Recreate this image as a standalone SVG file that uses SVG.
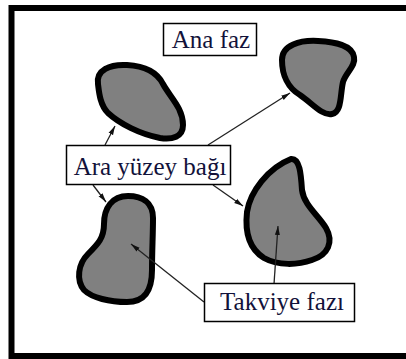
<svg xmlns="http://www.w3.org/2000/svg" width="406" height="359" viewBox="0 0 406 359">
<defs>
<style>
.frame{fill:none;stroke:#000;stroke-width:6}
.blob{fill:#808080;stroke:#000;stroke-width:6;stroke-linejoin:round}
.box{fill:#fff;stroke:#000;stroke-width:1.5}
.lbl{font-family:"Liberation Serif","Times New Roman",serif;font-size:25px;fill:#12123a;text-anchor:middle}
.con{fill:none;stroke:#222;stroke-width:1.3;marker-end:url(#ah)}
</style>
<marker id="ah" markerUnits="userSpaceOnUse" markerWidth="10" markerHeight="6" refX="9" refY="3" orient="auto">
<path d="M0,0.5 L9,3 L0,5.5 z" fill="#111"/>
</marker>
</defs>
<rect width="406" height="359" fill="#fff"/>
<rect class="frame" x="11.5" y="8" width="410" height="348"/>
<g id="blob1"><path class="blob" d="M98,84 C96,70 110,64 127,65 C145,66 157,72 163,84 C170,97 183,108 183,125 C183,137 172,140 160,138 C140,134 120,124 108,113 C100,105 99,92 98,84 Z"/></g>
<g id="blob2"><path class="blob" d="M282,60 C282,45 300,40 318,41 C335,42 352,45 354,57 C356,66 346,72 343,82 C340,95 342,112 332,114 C322,116 312,103 300,95 C288,88 282,75 282,60 Z"/></g>
<g id="blob3"><path class="blob" d="M128,196 C142,196 153,202 153,218 C153,235 152,250 152,270 C152,290 145,302 127,302 C110,302 92,298 84,290 C76,280 78,264 88,254 C98,244 104,238 104,224 C104,208 112,196 128,196 Z"/></g>
<g id="blob4"><path class="blob" d="M291,159 C300,158 301,175 302,190 C304,205 318,215 326,228 C334,242 328,255 312,260 C298,265 278,266 264,258 C248,248 245,230 247,212 C250,192 268,168 291,159 Z"/></g>
<g id="connectors">
<line class="con" x1="105" y1="145" x2="115" y2="126"/>
<line class="con" x1="208" y1="145" x2="290" y2="93"/>
<line class="con" x1="93" y1="185" x2="106" y2="202"/>
<line class="con" x1="213" y1="185" x2="243" y2="206"/>
<line class="con" x1="204" y1="302" x2="131" y2="244"/>
<line class="con" x1="274" y1="284" x2="278" y2="226"/>
</g>
<g id="ana-faz"><rect class="box" x="163.5" y="23.5" width="93" height="32"/><text class="lbl" x="211" y="48">Ana faz</text></g>
<g id="ara-yuzey"><rect class="box" x="66.5" y="145.5" width="164" height="39"/><text class="lbl" x="150" y="175">Ara yüzey bağı</text></g>
<g id="takviye"><rect class="box" x="204.5" y="283.5" width="150" height="38"/><text class="lbl" x="282" y="310">Takviye fazı</text></g>
</svg>
